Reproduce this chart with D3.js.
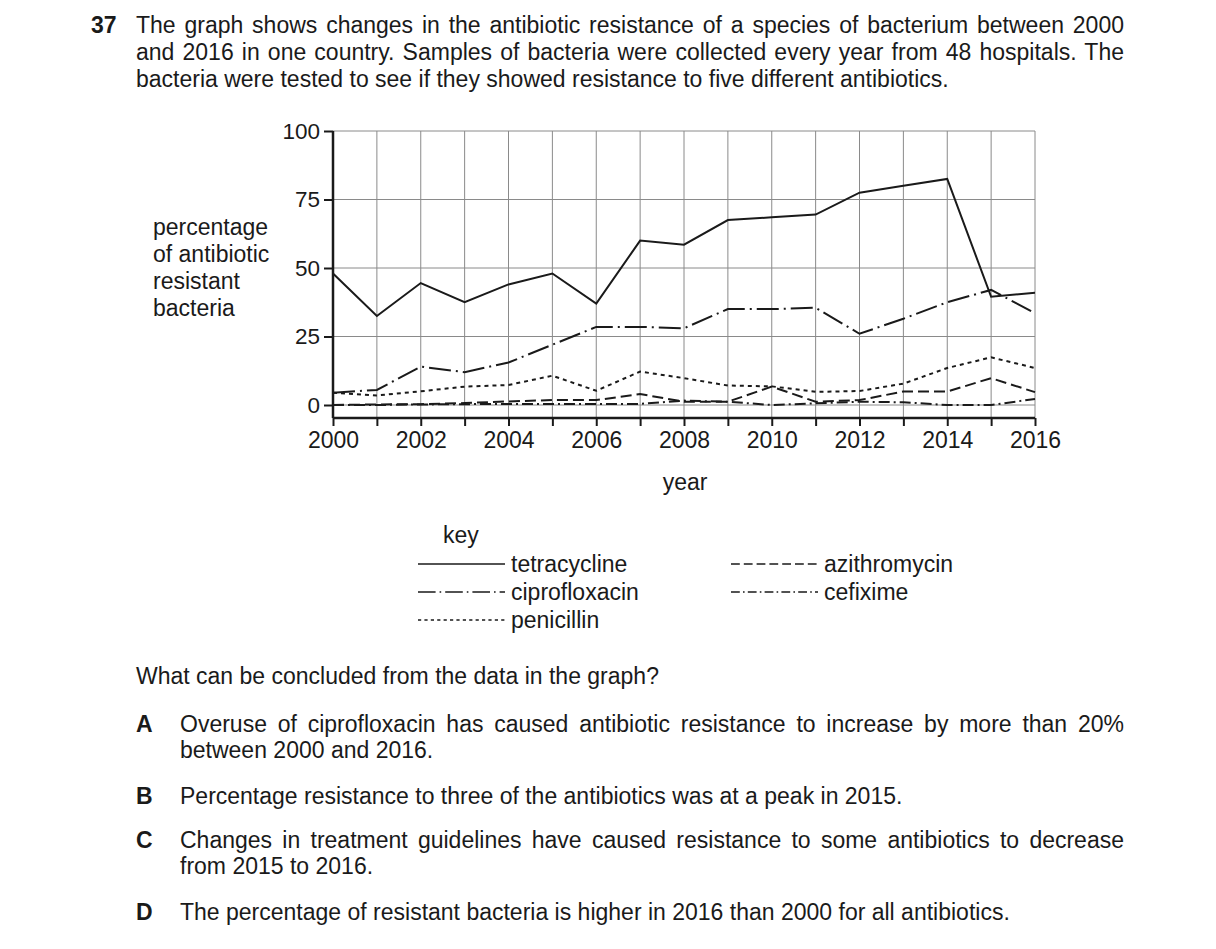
<!DOCTYPE html>
<html>
<head>
<meta charset="utf-8">
<script src="https://cdnjs.cloudflare.com/ajax/libs/d3/7.8.5/d3.min.js"></script>
<style>
  body { margin: 0; background: #fff; }
  svg text { font-family: "Liberation Sans", Arial, sans-serif; fill: #1a1a1a; font-size: 23px; }
</style>
</head>
<body>
<svg width="1216" height="949"></svg>
<script>
// data
var years = [2000,2001,2002,2003,2004,2005,2006,2007,2008,2009,2010,2011,2012,2013,2014,2015,2016];
var tetracycline  = [48, 32.5, 44.5, 37.5, 44, 48, 37, 60, 58.5, 67.5, 68.5, 69.5, 77.5, 80, 82.5, 39.5, 41];
var ciprofloxacin = [4.5, 5.5, 14, 12, 15.5, 22, 28.5, 28.5, 28, 35, 35, 35.5, 26, 31.5, 37.5, 42, 33.5];
var penicillin    = [4.5, 3.5, 5, 6.7, 7.3, 10.7, 5.2, 12.2, 9.8, 7.1, 6.8, 4.8, 5.1, 7.8, 13.5, 17.4, 13.5];
var azithromycin  = [0, 0.2, 0.3, 0.7, 1.3, 1.8, 1.8, 4, 1.2, 1.2, 6.7, 1.2, 1.8, 4.9, 4.9, 9.8, 4.7];
var cefixime      = [0, 0, 0.2, 0.3, 0.4, 0.4, 0.4, 0.4, 1.6, 1.2, 0, 0.6, 1.2, 1, 0, 0, 2.2];
var yTicks = [0, 25, 50, 75, 100];
var xLabels = [2000,2002,2004,2006,2008,2010,2012,2014,2016];

var series = [
  {name: "tetracycline",  values: tetracycline,  dash: null},
  {name: "ciprofloxacin", values: ciprofloxacin, dash: "22,5,2,5"},
  {name: "penicillin",    values: penicillin,    dash: "4,4"},
  {name: "azithromycin",  values: azithromycin,  dash: "11,5"},
  {name: "cefixime",      values: cefixime,      dash: "11,4,2,4"}
];

var svg = d3.select("svg");

var x = d3.scaleLinear().domain([2000, 2016]).range([333, 1035]);
var y = d3.scaleLinear().domain([0, 100]).range([405, 131]);
var axisY = 418;

// justified text helper: stretch word spacing to fit width
function justify(sel, width) {
  sel.each(function() {
    var t = d3.select(this);
    var w = this.getComputedTextLength();
    var n = t.text().split(" ").length - 1;
    if (n > 0) t.attr("word-spacing", (width - w) / n);
  });
}

// question header
svg.append("text").attr("x", 91).attr("y", 33).style("font-weight", "bold").text("37");
var intro = [
  ["The graph shows changes in the antibiotic resistance of a species of bacterium between 2000", true],
  ["and 2016 in one country. Samples of bacteria were collected every year from 48 hospitals. The", true],
  ["bacteria were tested to see if they showed resistance to five different antibiotics.", false]
];
intro.forEach(function(l, i) {
  var t = svg.append("text").attr("x", 136).attr("y", 33 + i * 27).text(l[0]);
  if (l[1]) justify(t, 988);
});

// grid
var grid = svg.append("g").attr("stroke", "#8a8a8a").attr("stroke-width", 1);
grid.selectAll(".v").data(years).enter().append("line")
  .attr("x1", function(d) { return x(d); }).attr("x2", function(d) { return x(d); })
  .attr("y1", y(100)).attr("y2", axisY);
grid.selectAll(".h").data(yTicks).enter().append("line")
  .attr("x1", x(2000)).attr("x2", x(2016))
  .attr("y1", function(d) { return y(d); }).attr("y2", function(d) { return y(d); });

// axes
var gy = svg.append("g").attr("transform", "translate(" + x(2000) + ",0)")
  .call(d3.axisLeft(y).tickValues(yTicks).tickSize(9).tickPadding(4));
gy.select(".domain").remove();
gy.selectAll(".tick line").attr("stroke", "#1a1a1a").attr("stroke-width", 2);
gy.selectAll("text").attr("font-size", null).attr("font-family", null).style("font-size", "22.5px");

var gx = svg.append("g").attr("transform", "translate(0," + axisY + ")")
  .call(d3.axisBottom(x).tickValues(years).tickSize(8).tickPadding(6)
    .tickFormat(function(d) { return xLabels.indexOf(d) >= 0 ? d : ""; }));
gx.select(".domain").remove();
gx.selectAll(".tick line").attr("stroke", "#1a1a1a").attr("stroke-width", 2);
gx.selectAll("text").attr("font-size", null).attr("font-family", null).style("font-size", "23px");

svg.append("line").attr("x1", x(2000)).attr("x2", x(2016)).attr("y1", axisY).attr("y2", axisY)
  .attr("stroke", "#1a1a1a").attr("stroke-width", 2.5);
svg.append("line").attr("x1", x(2000)).attr("x2", x(2000)).attr("y1", y(100)).attr("y2", axisY)
  .attr("stroke", "#1a1a1a").attr("stroke-width", 2.5);

// data lines
var line = d3.line().x(function(d, i) { return x(years[i]); }).y(function(d) { return y(d); });
svg.append("g").selectAll("path").data(series).enter().append("path")
  .attr("d", function(d) { return line(d.values); })
  .attr("fill", "none").attr("stroke", "#1a1a1a").attr("stroke-width", 2)
  .attr("stroke-dasharray", function(d) { return d.dash; });

// axis titles
svg.append("text").attr("x", 685).attr("y", 490).attr("text-anchor", "middle").text("year");
["percentage", "of antibiotic", "resistant", "bacteria"].forEach(function(s, i) {
  svg.append("text").attr("x", 153).attr("y", 235 + i * 27).text(s);
});

// key
svg.append("text").attr("x", 443).attr("y", 543).text("key");
var keyPos = [[418, 572], [418, 600], [418, 628], [731, 572], [731, 600]];
var keyG = svg.append("g").selectAll("g").data(series).enter().append("g")
  .attr("transform", function(d, i) { return "translate(" + keyPos[i][0] + "," + keyPos[i][1] + ")"; });
keyG.append("line").attr("x1", 0).attr("x2", 87).attr("y1", -8).attr("y2", -8)
  .attr("stroke", "#1a1a1a").attr("stroke-width", 1.6)
  .attr("stroke-dasharray", function(d) { return d.dash ? d.dash.split(",").map(function(v) { return Math.max(1.5, +v * 0.8); }).join(",") : null; });
keyG.append("text").attr("x", 93).attr("y", 0).text(function(d) { return d.name; });

// question
svg.append("text").attr("x", 136).attr("y", 684).text("What can be concluded from the data in the graph?");
var options = [
  ["A", 732, ["Overuse of ciprofloxacin has caused antibiotic resistance to increase by more than 20%", "between 2000 and 2016."]],
  ["B", 804, ["Percentage resistance to three of the antibiotics was at a peak in 2015."]],
  ["C", 848, ["Changes in treatment guidelines have caused resistance to some antibiotics to decrease", "from 2015 to 2016."]],
  ["D", 920, ["The percentage of resistant bacteria is higher in 2016 than 2000 for all antibiotics."]]
];
options.forEach(function(o) {
  svg.append("text").attr("x", 136).attr("y", o[1]).style("font-weight", "bold").text(o[0]);
  o[2].forEach(function(s, i) {
    var t = svg.append("text").attr("x", 180).attr("y", o[1] + i * 26).text(s);
    if (o[2].length > 1 && i === 0) justify(t, 944);
  });
});
</script>
</body>
</html>
